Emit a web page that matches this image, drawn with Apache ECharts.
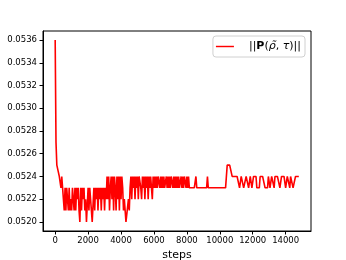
<!DOCTYPE html>
<html>
<head>
<meta charset="utf-8">
<script src="https://cdn.jsdelivr.net/npm/echarts@6/dist/echarts.min.js"></script>
<style>
html,body{margin:0;padding:0;background:#fff;}
#chart{width:346px;height:260px;}
</style>
</head>
<body>
<div id="chart"></div>
<script>
// Logged every 50 steps; each row below covers 500 steps
const stepInterval = 50;
const normValues = [
  0.0536, 0.0527, 0.0525, 0.0525, 0.0525, 0.0524, 0.0524, 0.0523, 0.0524, 0.0523, // 0
  0.0522, 0.0521, 0.0523, 0.0521, 0.0523, 0.0522, 0.0521, 0.0523, 0.0521, 0.0522, // 500
  0.0521, 0.0523, 0.0522, 0.0521, 0.0523, 0.0521, 0.0523, 0.0522, 0.0523, 0.0521, // 1000
  0.0520, 0.0523, 0.0521, 0.0523, 0.0522, 0.0523, 0.0521, 0.0522, 0.0520, 0.0520, // 1500
  0.0523, 0.0521, 0.0523, 0.0522, 0.0521, 0.0520, 0.0520, 0.0523, 0.0521, 0.0523, // 2000
  0.0522, 0.0523, 0.0521, 0.0523, 0.0522, 0.0523, 0.0521, 0.0523, 0.0522, 0.0523, // 2500
  0.0521, 0.0523, 0.0522, 0.0524, 0.0522, 0.0524, 0.0521, 0.0523, 0.0524, 0.0522, // 3000
  0.0524, 0.0521, 0.0524, 0.0523, 0.0521, 0.0524, 0.0522, 0.0524, 0.0521, 0.0524, // 3500
  0.0522, 0.0524, 0.0523, 0.0521, 0.0522, 0.0521, 0.0520, 0.0520, 0.0520, 0.0522, // 4000
  0.0521, 0.0523, 0.0524, 0.0522, 0.0524, 0.0523, 0.0524, 0.0522, 0.0524, 0.0523, // 4500
  0.0524, 0.0522, 0.0524, 0.0524, 0.0523, 0.0522, 0.0524, 0.0523, 0.0524, 0.0522, // 5000
  0.0524, 0.0523, 0.0524, 0.0522, 0.0524, 0.0523, 0.0524, 0.0523, 0.0522, 0.0524, // 5500
  0.0523, 0.0524, 0.0523, 0.0524, 0.0523, 0.0524, 0.0524, 0.0523, 0.0524, 0.0523, // 6000
  0.0524, 0.0523, 0.0524, 0.0523, 0.0523, 0.0524, 0.0523, 0.0524, 0.0523, 0.0524, // 6500
  0.0523, 0.0524, 0.0524, 0.0523, 0.0524, 0.0523, 0.0524, 0.0523, 0.0524, 0.0523, // 7000
  0.0524, 0.0523, 0.0523, 0.0524, 0.0523, 0.0524, 0.0523, 0.0524, 0.0524, 0.0523, // 7500
  0.0524, 0.0523, 0.0524, 0.0523, 0.0523, 0.0523, 0.0523, 0.0523, 0.0523, 0.0523, // 8000
  0.0523, 0.0524, 0.0523, 0.0523, 0.0523, 0.0523, 0.0523, 0.0523, 0.0523, 0.0523, // 8500
  0.0523, 0.0523, 0.0523, 0.0523, 0.0523, 0.0524, 0.0523, 0.0523, 0.0523, 0.0523, // 9000
  0.0523, 0.0523, 0.0523, 0.0523, 0.0523, 0.0523, 0.0523, 0.0523, 0.0523, 0.0523, // 9500
  0.0523, 0.0523, 0.0523, 0.0523, 0.0523, 0.0523, 0.0523, 0.0523, 0.0524, 0.0525, // 10000
  0.0525, 0.0525, 0.0525, 0.0525, 0.0525, 0.0524, 0.0524, 0.0524, 0.0524, 0.0524, // 10500
  0.0524, 0.0524, 0.0524, 0.0524, 0.0523, 0.0523, 0.0524, 0.0524, 0.0524, 0.0523, // 11000
  0.0523, 0.0523, 0.0524, 0.0524, 0.0524, 0.0523, 0.0523, 0.0524, 0.0524, 0.0523, // 11500
  0.0523, 0.0524, 0.0524, 0.0524, 0.0524, 0.0523, 0.0523, 0.0523, 0.0523, 0.0524, // 12000
  0.0524, 0.0524, 0.0524, 0.0524, 0.0524, 0.0523, 0.0523, 0.0523, 0.0523, 0.0524, // 12500
  0.0524, 0.0523, 0.0523, 0.0524, 0.0524, 0.0524, 0.0523, 0.0524, 0.0524, 0.0524, // 13000
  0.0524, 0.0524, 0.0524, 0.0523, 0.0523, 0.0524, 0.0524, 0.0524, 0.0524, 0.0524, // 13500
  0.0523, 0.0523, 0.0524, 0.0524, 0.0524, 0.0523, 0.0524, 0.0524, 0.0524, 0.0523, // 14000
  0.0523, 0.0523, 0.0524, 0.0524, 0.0524, 0.0524, 0.0524                          // 14500
];
const xTicks = [0, 2000, 4000, 6000, 8000, 10000, 12000, 14000];
const yTicks = [0.0520, 0.0522, 0.0524, 0.0526, 0.0528, 0.0530, 0.0532, 0.0534, 0.0536];
const seriesName = 'norm';
const xLabel = 'steps';

const seriesData = normValues.map((v, i) => [i * stepInterval, v]);
const font = 'DejaVu Sans';

const chart = echarts.init(document.getElementById('chart'), null, {renderer: 'canvas'});
chart.setOption({
  animation: false,
  backgroundColor: '#fff',
  grid: {left: 43, top: 31, right: 35, bottom: 29, show: true, borderColor: '#000', borderWidth: 1,
    containLabel: false, outerBoundsMode: 'none'},
  legend: {
    show: true,
    right: 41, top: 36,
    padding: [5, 4, 5, 3],
    borderColor: '#d0d0d0', borderWidth: 1, borderRadius: 3,
    backgroundColor: '#fff',
    itemWidth: 18, itemHeight: 8, itemGap: 0,
    data: [{name: seriesName, icon: 'path://M0,0 L20,0 L20,1.6 L0,1.6 Z'}],
    formatter: function () {
      return '{n|||}{b|P}{n|(}{i|ρ̃}{n|, }{i|τ}{n|)||}';
    },
    textStyle: {
      fontFamily: font, fontSize: 11, color: '#000', padding: [0, 0, 0, 10],
      rich: {
        n: {fontFamily: font, fontSize: 11, color: '#000'},
        b: {fontFamily: font, fontSize: 11, color: '#000', fontWeight: 'bold'},
        i: {fontFamily: font, fontSize: 11, color: '#000', fontStyle: 'italic'}
      }
    }
  },
  xAxis: {
    type: 'value', min: -740, max: 15540,
    name: xLabel, nameLocation: 'middle', nameGap: 15,
    nameTextStyle: {fontFamily: font, fontSize: 11, color: '#000'},
    splitLine: {show: false},
    axisLine: {show: true, onZero: false, lineStyle: {color: '#000', width: 1}},
    axisTick: {show: true, length: 3.5, lineStyle: {color: '#000'}, customValues: xTicks},
    axisLabel: {fontFamily: font, fontSize: 8.5, color: '#000', margin: 5, customValues: xTicks,
      formatter: v => String(Math.round(v))}
  },
  yAxis: {
    type: 'value', min: 0.05192, max: 0.05368,
    splitLine: {show: false},
    axisLine: {show: true, onZero: false, lineStyle: {color: '#000', width: 1}},
    axisTick: {show: true, length: 3.5, lineStyle: {color: '#000'}, customValues: yTicks},
    axisLabel: {fontFamily: font, fontSize: 8.5, color: '#000', margin: 6, customValues: yTicks,
      formatter: v => v.toFixed(4)}
  },
  series: [{
    name: seriesName,
    type: 'line',
    data: seriesData,
    showSymbol: false,
    symbol: 'none',
    lineStyle: {color: '#ff0000', width: 1.6},
    itemStyle: {color: '#ff0000'}
  }]
});
</script>
</body>
</html>
